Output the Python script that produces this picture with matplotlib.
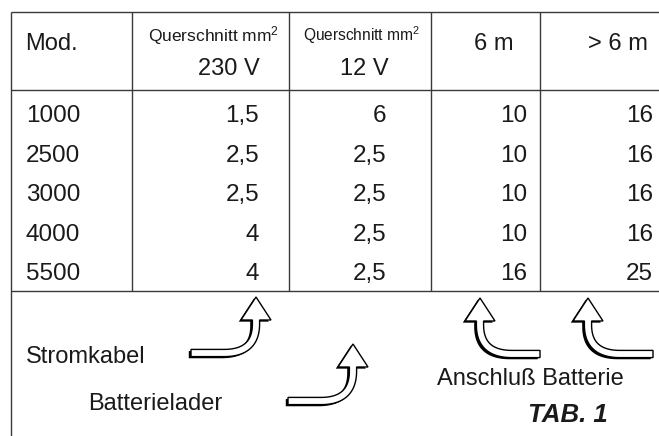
import matplotlib
matplotlib.use('Agg')
import numpy as np
import matplotlib.pyplot as plt
import matplotlib.patheffects as pe
from matplotlib.patches import Polygon

plt.rcParams['mathtext.fontset'] = 'custom'
plt.rcParams['mathtext.rm'] = 'Liberation Sans'
plt.rcParams['mathtext.it'] = 'Liberation Sans:italic'
plt.rcParams['mathtext.bf'] = 'Liberation Sans:bold'

# table data
models = [1000, 2500, 3000, 4000, 5500]
q_230v = [1.5, 2.5, 2.5, 4, 4]
q_12v = [6, 2.5, 2.5, 2.5, 2.5]
len_6m = [10, 10, 10, 10, 16]
len_over6m = [16, 16, 16, 16, 25]
headers = ['Mod.', r'Querschnitt mm$^{\mathrm{2}}$', '230 V', r'Querschnitt mm$^{\mathrm{2}}$', '12 V', '6 m', '> 6 m']
labels = ['Stromkabel', 'Batterielader', 'Anschluß Batterie', 'TAB. 1']

def fmt(v):
    return f'{v:g}'.replace('.', ',')

main = 'Liberation Sans'
ink = '#1a1a1a'
lc = '#3a3a3a'

fig = plt.figure(figsize=(6.59, 4.36), dpi=100)
ax = fig.add_axes([0, 0, 1, 1])
ax.set_xlim(0, 659); ax.set_ylim(436, 0); ax.axis('off')

# grid
lw = 1.0
ax.hlines([12, 90.5, 291], 11, 659, color=lc, lw=lw)
ax.vlines([132, 289, 431, 540], 12, 291, color=lc, lw=lw)
ax.vlines(11, 12, 436, color=lc, lw=lw)

fs = 17
ax.text(25, 50, headers[0], fontsize=fs, family=main, color=ink)
ax.text(148, 41, headers[1], fontsize=12.5, family=main, color=ink)
ax.text(303, 41, headers[3], fontsize=11.2, family=main, color=ink)
ax.text(260, 75, headers[2], fontsize=fs, family=main, color=ink, ha='right')
ax.text(389, 75, headers[4], fontsize=fs, family=main, color=ink, ha='right')
ax.text(494, 50, headers[5], fontsize=fs, family=main, color=ink, ha='center')
ax.text(618, 50, headers[6], fontsize=fs, family=main, color=ink, ha='center')

right_edges = [259, 386, 527, 653]
for i, m in enumerate(models):
    yb = 122 + 39.5 * i
    ax.text(26, yb, str(m), fontsize=17.5, family=main, color=ink)
    for xr, col in zip(right_edges, [q_230v, q_12v, len_6m, len_over6m]):
        ax.text(xr, yb, fmt(col[i]), fontsize=17.5, family=main, color=ink, ha='right')

# hollow bent arrows: tail -> corner -> tip, outline built around a centre line
def arrow_outline(tail, corner, tip, r=32, w=3.6, hw=15, hl=23):
    T, C, P = (np.array(p, float) for p in (tail, corner, tip))
    d1 = (C - T) / np.linalg.norm(C - T)
    d2 = (P - C) / np.linalg.norm(P - C)
    base = P - hl * d2
    a, b = C - r * d1, C + min(r, np.linalg.norm(P - C) - hl - 4) * d2
    t = np.linspace(0, 1, 40)[:, None]
    curve = (1 - t) ** 2 * a + 2 * (1 - t) * t * C + t ** 2 * b
    line = np.vstack([T, curve, base])
    tang = np.gradient(line, axis=0)
    tang /= np.linalg.norm(tang, axis=1)[:, None]
    nrm = np.column_stack([-tang[:, 1], tang[:, 0]])
    left, right = line + w * nrm, line - w * nrm
    n2 = np.array([-d2[1], d2[0]])
    head = [base + hw * n2, P, base - hw * n2]
    return np.vstack([left, head, right[::-1]])

arrows = [((191, 353), (256, 353), (256, 297)), ((288, 401), (353, 401), (353, 344)),
          ((540, 354), (480, 354), (480, 298)), ((653, 354), (588, 354), (588, 298))]
for tail, corner, tip in arrows:
    poly = Polygon(arrow_outline(tail, corner, tip), closed=True, fc='white', ec='black', lw=1.0,
                   joinstyle='miter',
                   path_effects=[pe.SimplePatchShadow(offset=(-1.6, -1.2), shadow_rgbFace='black', alpha=1.0),
                                 pe.Normal()])
    ax.add_patch(poly)

ax.text(26, 363, labels[0], fontsize=fs, family=main, color=ink)
ax.text(88, 410, labels[1], fontsize=fs, family=main, color=ink)
ax.text(437, 385, labels[2], fontsize=fs, family=main, color=ink)
ax.text(608, 422, labels[3], fontsize=18.5, family=main, color=ink, ha='right',
        fontweight='bold', fontstyle='italic')

fig.savefig('out.png', dpi=100)
